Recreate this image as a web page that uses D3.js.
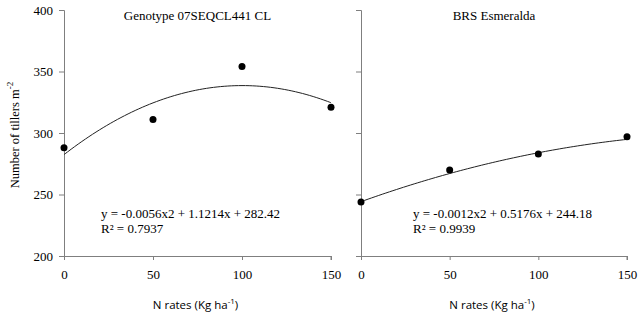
<!DOCTYPE html>
<html lang="en">
<head>
<meta charset="utf-8">
<title>Tillers</title>
<script src="https://d3js.org/d3.v7.min.js"></script>
<style>
  body { margin: 0; background: #fff; }
  .axis path, .axis line { stroke: #7f7f7f; }
  .axis text { font-size: 13px; fill: #000; }
</style>
</head>
<body>
<div id="chart"></div>
<script>
// data
const nRates = [0, 50, 100, 150];
const tillersGenotype = [288, 311, 354, 321];
const tillersBRS = [244, 270, 283, 297];
// printed trend line coefficients (a x^2 + b x + c)
const coefGenotype = [-0.0056, 1.1214, 282.42];
const coefBRS = [-0.0012, 0.5176, 244.18];
const xTicks = [0, 50, 100, 150];
const yTicks = [200, 250, 300, 350, 400];

const width = 643, height = 318;
const serif = "'Times New Roman', 'Liberation Serif', 'DejaVu Serif', serif";
const sans = "'Open Sans', 'Liberation Sans', sans-serif";

const svg = d3.select("#chart").append("svg")
  .attr("width", width).attr("height", height);

const y = d3.scaleLinear().domain([200, 400]).range([256, 10]);

const panels = [
  {title: "Genotype 07SEQCL441 CL", vals: tillersGenotype, coef: coefGenotype,
   eq: "y = -0.0056x2 + 1.1214x + 282.42", r2: "R\u00b2 = 0.7937",
   range: [64, 331], labels: true, eqX: 101},
  {title: "BRS Esmeralda", vals: tillersBRS, coef: coefBRS,
   eq: "y = -0.0012x2 + 0.5176x + 244.18", r2: "R\u00b2 = 0.9939",
   range: [361, 627], labels: false, eqX: 413}
];

panels.forEach(p => {
  const x = d3.scaleLinear().domain([0, 150]).range(p.range);
  const g = svg.append("g");

  g.append("g").attr("class", "axis")
    .attr("transform", "translate(0,256)")
    .call(d3.axisBottom(x).tickValues(xTicks).tickSize(4).tickSizeOuter(4).tickPadding(10))
    .call(a => a.attr("font-family", serif).attr("font-size", 13))
    .call(a => a.select(".domain").attr("d", `M${p.range[0] - 4},0.5H${p.range[1]}V4`));

  g.append("g").attr("class", "axis")
    .attr("transform", `translate(${p.range[0]},0)`)
    .call(d3.axisLeft(y).tickValues(yTicks).tickSize(5).tickSizeOuter(5).tickPadding(6)
      .tickFormat(p.labels ? d3.format("d") : ""))
    .call(a => a.attr("font-family", serif).attr("font-size", 13))
    .call(a => a.select(".domain").attr("d", "M-5,10.5H0.5V260"));

  // trend line from the printed equation
  const f = v => p.coef[0] * v * v + p.coef[1] * v + p.coef[2];
  const xs = d3.range(0, 151, 2);
  g.append("path")
    .datum(xs)
    .attr("fill", "none")
    .attr("stroke", "#222")
    .attr("stroke-width", 1)
    .attr("d", d3.line().x(d => x(d)).y(d => y(f(d))).curve(d3.curveBasis));

  g.selectAll("circle").data(p.vals).enter().append("circle")
    .attr("cx", (d, i) => x(nRates[i]))
    .attr("cy", d => y(d))
    .attr("r", 3.5)
    .attr("fill", "#000");

  g.append("text").style("font-family", serif).style("font-size", "13px")
    .attr("x", (p.range[0] + p.range[1]) / 2).attr("y", 20)
    .attr("text-anchor", "middle")
    .text(p.title);

  g.append("text").style("font-family", serif).style("font-size", "13px")
    .attr("x", p.eqX).attr("y", 218).text(p.eq);
  g.append("text").style("font-family", serif).style("font-size", "13px")
    .attr("x", p.eqX).attr("y", 233).text(p.r2);

  const xl = g.append("text").style("font-family", sans).style("font-size", "11.5px")
    .attr("x", (p.range[0] + p.range[1]) / 2 - 2).attr("y", 309)
    .attr("text-anchor", "middle");
  xl.append("tspan").text("N rates (Kg ha");
  xl.append("tspan").attr("dy", -5).style("font-size", "8px").text("-1");
  xl.append("tspan").attr("dy", 5).text(")");
});

const yl = svg.append("text").style("font-family", serif).style("font-size", "12.5px")
  .attr("transform", "translate(19,135) rotate(-90)")
  .attr("text-anchor", "middle");
yl.append("tspan").text("Number of tillers m");
yl.append("tspan").attr("dy", -6).style("font-size", "9px").text("-2");
</script>
</body>
</html>
